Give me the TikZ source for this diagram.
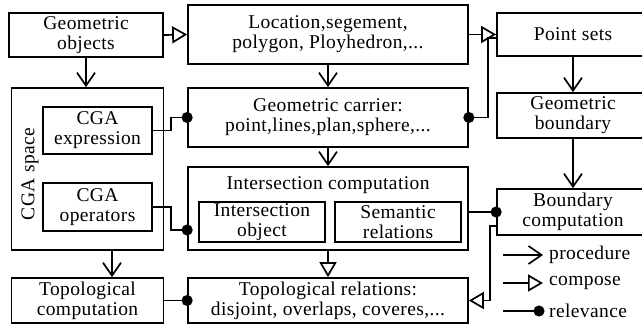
\documentclass[tikz,border=0pt]{standalone}
\usepackage{fontspec}
\setmainfont[LetterSpace=2]{Liberation Serif}
\usetikzlibrary{positioning}
\usetikzlibrary{arrows.meta}

\tikzset{
  box/.style={draw, line width=1.7pt, inner sep=0pt, align=center, font=\fontsize{19.5}{20}\selectfont},
  txt/.style={inner sep=0pt, align=center, font=\fontsize{19.5}{20}\selectfont},
  procedure/.style={line width=1.7pt, -{Straight Barb[length=13pt,width=18pt,line width=1.7pt]}},
  compose/.style={line width=1.7pt, -{Triangle[open,length=15pt,width=17pt,line width=1.7pt]}},
  relevance/.style={line width=1.7pt, -{Circle[length=11pt,sep=-5.5pt]}}
}

\begin{document}
\begin{tikzpicture}[x=1pt,y=-1pt]

\useasboundingbox (0,0) rectangle (642,327);

% boxes
{
\node[box, minimum width=154pt, minimum height=44pt] (geo) at (86,35) {Geometric\\objects};
\node[box, minimum width=280pt, minimum height=59pt] (loc) at (328,34.5) {Location,segement,\\polygon, Ployhedron,...};
\node[box, minimum width=152pt, minimum height=43pt] (pts) at (573,34.5) {Point sets};

\node[box, minimum width=152pt, minimum height=162pt] (cga) at (87.5,169) {};
\node[txt, rotate=90] (cgalbl) at (30,174) {CGA space};
\node[box, minimum width=109pt, minimum height=47pt] (expr) at (97.5,130.5) {CGA\\expression};
\node[box, minimum width=109pt, minimum height=48pt] (opr) at (97.5,207) {CGA\\operators};

\node[box, minimum width=280pt, minimum height=59pt] (carrier) at (328,117.5) {Geometric carrier:\\point,lines,plan,sphere,...};
\node[box, minimum width=152pt, minimum height=45pt] (gbound) at (573,115.5) {Geometric\\boundary};

\node[box, minimum width=280pt, minimum height=83pt] (inter) at (328,208.5) {};
\node[txt] (interlbl) at (328,185) {Intersection computation};
\node[box, minimum width=126pt, minimum height=40pt] (iobj) at (262,222) {Intersection\\object};
\node[box, minimum width=126pt, minimum height=40pt] (sem) at (398,222) {Semantic\\relations};
\node[box, minimum width=152pt, minimum height=46pt] (bcomp) at (573,212) {Boundary\\computation};

\node[box, minimum width=152pt, minimum height=45pt] (tcomp) at (87.5,300.5) {Topological\\computation};
\node[box, minimum width=280pt, minimum height=45pt] (trel) at (328,300.5) {Topological relations:\\disjoint, overlaps, coveres,...};
}

% connectors
\draw[compose] (geo.east) -- (loc.west);
\draw[compose] (loc.east) -- (pts.west);
\draw[procedure] (geo.south) -- (geo.south |- cga.north);
\draw[procedure] (loc) -- (carrier);
\draw[procedure] (carrier) -- (inter);
\draw[compose] (inter) -- (trel);
\draw[procedure] ([xshift=24.5pt]cga.south) -- ([xshift=24.5pt]tcomp.north);
\draw[procedure] (pts) -- (gbound);
\draw[procedure] (gbound) -- (bcomp);

\draw[relevance] (expr.east) -- ++(18,0) |- (carrier.west);
\draw[relevance] ([yshift=-3.5pt]pts.west) -- ++(-8,0) |- (carrier.east);
\draw[relevance] (opr.east) -- ++(18,0) |- ([yshift=-21.5pt]inter.west);
\draw[relevance] (bcomp.west -| inter.east) -- (bcomp.west);
\draw[compose] ([yshift=-14pt]bcomp.west) -- ++(-6,0) |- (trel.east);
\draw[relevance] (tcomp.east) -- (trel.west);

% legend
{
\coordinate (lp) at (503,255);
\coordinate (lc) at (503,283);
\coordinate (lr) at (503,311);
\node[txt, anchor=west, inner xsep=6pt] (lproc) at (543,255) {procedure};
\node[txt, anchor=west, inner xsep=6pt] (lcomp) at (543,283) {compose};
\node[txt, anchor=west, inner xsep=6pt] (lrel) at (543,311) {relevance};
\draw[procedure] (lp) -- (lproc.west);
\draw[compose] (lc) -- (lcomp.west);
\draw[relevance] (lr) -- ([xshift=-4pt]lrel.west);
}

\end{tikzpicture}
\end{document}
